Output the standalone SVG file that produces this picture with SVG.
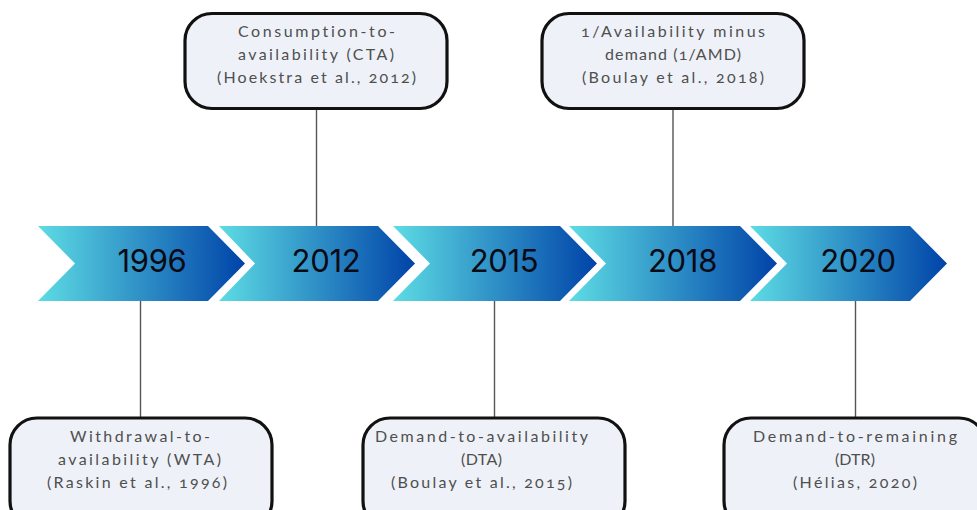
<svg xmlns="http://www.w3.org/2000/svg" width="977" height="510" viewBox="0 0 977 510">
<style>
.box{fill:#eef2f8;stroke:#111;stroke-width:3.2}
.lbl{font-family:"Lato","Noto Sans",sans-serif;font-size:16px;font-variant-numeric:oldstyle-nums;font-variant-ligatures:none;fill:#4f4f4f;text-anchor:middle}
.yr{font-family:"Inter","Liberation Sans",sans-serif;font-size:31px;letter-spacing:-.3px;fill:#0a0a14;text-anchor:middle}
.arr{fill:url(#g)}
.ln{stroke:#555;stroke-width:1.4;fill:none}
</style>
<defs><linearGradient id="g" x1="0" y1="0" x2="1" y2="0"><stop offset="0" stop-color="#5ddce4"/><stop offset="1" stop-color="#0043a8"/></linearGradient></defs>
<rect width="977" height="510" fill="#fff"/>
<g id="connectors">
<path class="ln" d="M316.500 108V226"/><path class="ln" d="M673 108V226"/><path class="ln" d="M140.500 301V418"/><path class="ln" d="M494.500 301V418"/><path class="ln" d="M855.500 301V418"/>
</g>
<g id="n1996"><path class="arr" d="M38 226H208L245 263.500L208 301H38L75 263.500Z"/><text class="yr" x="152" y="272">1996</text></g>
<g id="n2012"><path class="arr" d="M219 226H378L415 263.500L378 301H219L255 263.500Z"/><text class="yr" x="326" y="272">2012</text></g>
<g id="n2015"><path class="arr" d="M393 226H560L597 263.500L560 301H393L430 263.500Z"/><text class="yr" x="504" y="272">2015</text></g>
<g id="n2018"><path class="arr" d="M569 226H740L777 263.500L740 301H569L606 263.500Z"/><text class="yr" x="682.500" y="272">2018</text></g>
<g id="n2020"><path class="arr" d="M750 226H910L947 263.500L910 301H750L787 263.500Z"/><text class="yr" x="858" y="272">2020</text></g>
<g id="cta"><rect class="box" x="185" y="13.500" width="262" height="95" rx="27"/><text class="lbl" x="316.500" y="37" textLength="157">Consumption-to-</text><text class="lbl" x="316" y="60" textLength="156">availability (CTA)</text><text class="lbl" x="316.500" y="83" textLength="199">(Hoekstra et al., 2012)</text></g>
<g id="amd"><rect class="box" x="542" y="13.500" width="262" height="95" rx="27"/><text class="lbl" x="673" y="37" textLength="184">1/Availability minus</text><text class="lbl" x="673" y="60" textLength="136">demand (1/AMD)</text><text class="lbl" x="673" y="83" textLength="182">(Boulay et al., 2018)</text></g>
<g id="wta"><rect class="box" x="10" y="418" width="262" height="110" rx="27"/><text class="lbl" x="140" y="442" textLength="140">Withdrawal-to-</text><text class="lbl" x="139.500" y="465" textLength="163">availability (WTA)</text><text class="lbl" x="137" y="488" textLength="180">(Raskin et al., 1996)</text></g>
<g id="dta"><rect class="box" x="363" y="418" width="262" height="110" rx="27"/><text class="lbl" x="481.500" y="442" textLength="213">Demand-to-availability</text><text class="lbl" x="481.500" y="465" textLength="41">(DTA)</text><text class="lbl" x="481.500" y="488" textLength="181">(Boulay et al., 2015)</text></g>
<g id="dtr"><rect class="box" x="724" y="418" width="262" height="110" rx="27"/><text class="lbl" x="855" y="442" textLength="204">Demand-to-remaining</text><text class="lbl" x="855" y="465" textLength="40">(DTR)</text><text class="lbl" x="855" y="488" textLength="124">(Hélias, 2020)</text></g>
</svg>
